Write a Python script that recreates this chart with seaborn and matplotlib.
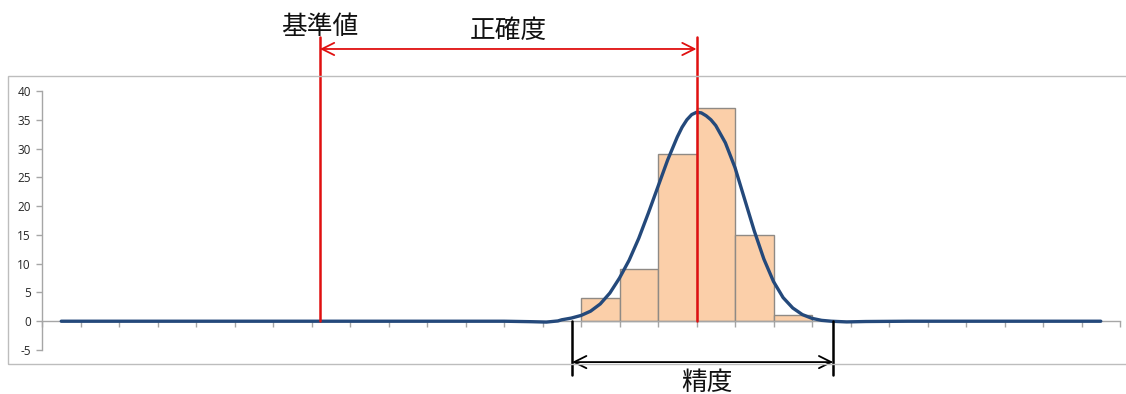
import matplotlib
matplotlib.use("Agg")
import matplotlib.pyplot as plt
import seaborn as sns
from matplotlib.patches import Rectangle

# ---- data ----
categories = [str(i) for i in range(1, 29)]
hist_categories = ["15", "16", "17", "18", "19", "20"]
hist_counts = [4, 9, 29, 37, 15, 1]

curve_x = [0, 6, 11.5, 12.2, 12.6, 12.9, 13.0, 13.25, 13.5, 13.75, 14.0, 14.25,
           14.5, 14.75, 15.0, 15.25, 15.5, 15.75, 16.0, 16.125, 16.25, 16.375,
           16.5, 16.625, 16.75, 16.875, 17.0, 17.25, 17.5, 17.75, 18.0, 18.25,
           18.5, 18.75, 19.0, 19.25, 19.5, 19.75, 20.0, 20.4, 20.9, 22.0, 27.0]
curve_y = [0, 0, 0, -0.08, -0.15, 0.05, 0.25, 0.55, 1.0, 1.75, 3.0, 4.9,
           7.5, 10.6, 14.4, 18.8, 23.4, 28.0, 32.0, 33.7, 35.0, 35.9,
           36.3, 36.2, 35.7, 35.0, 34.0, 31.0, 26.7, 21.2, 15.7, 10.8,
           6.9, 4.1, 2.3, 1.15, 0.5, 0.15, 0.0, -0.12, -0.05, 0, 0]

y_ticks = [-5, 0, 5, 10, 15, 20, 25, 30, 35, 40]

reference_value = 6.72      # 基準値 position (category axis)
mean_value = 16.5           # mean of measurements
precision_low = 13.27
precision_high = 20.05

label_reference = "基準値"
label_accuracy = "正確度"
label_precision = "精度"

# ---- style ----
sns.set_theme(style="white")
plt.rcParams["font.family"] = ["Noto Sans CJK JP", "DejaVu Sans"]

W, H = 1126, 394
fig = plt.figure(figsize=(W / 100, H / 100), dpi=100)
ax = fig.add_axes([42 / W, 1 - 350 / H, (1120 - 42) / W, (350 - 91) / H])

sns.barplot(x=hist_categories, y=hist_counts, order=categories, color="#FBCFA9",
            saturation=1, edgecolor="#8F8A85", linewidth=1.0, width=1.0, ax=ax)
sns.lineplot(x=curve_x, y=curve_y, color="#24497B", linewidth=2.4, ax=ax,
             zorder=4)

ax.set_xlim(-0.5, 27.5)
ax.set_ylim(-5, 40)
ax.set_xticks([i - 0.5 for i in range(len(categories) + 1)])
ax.set_xticklabels([])
ax.set_yticks(y_ticks)
ax.set_yticklabels([str(v) for v in y_ticks], fontfamily="Open Sans",
                   fontsize=8.5, color="#262626")
ax.set_xlabel("")
ax.set_ylabel("")

for s in ["top", "right"]:
    ax.spines[s].set_visible(False)
ax.spines["left"].set_color("#A6A6A6")
ax.spines["left"].set_linewidth(1.0)
ax.spines["bottom"].set_position(("data", 0))
ax.spines["bottom"].set_color("#A6A6A6")
ax.spines["bottom"].set_linewidth(1.0)
ax.tick_params(axis="both", direction="out", length=4, width=1.0,
               color="#A6A6A6", pad=4, bottom=True, left=True)

red = "#E01010"
# red vertical lines
for xv in [reference_value, mean_value]:
    ax.plot([xv, xv], [0, 49.3], color=red, linewidth=1.8, clip_on=False,
            zorder=5)
ax.annotate("", xy=(reference_value, 47.3), xytext=(mean_value, 47.3),
            arrowprops=dict(arrowstyle="<->", color=red, lw=1.3, shrinkA=0,
                            shrinkB=0, mutation_scale=22),
            annotation_clip=False)
ax.text(reference_value, 51.2, label_reference, ha="center", va="center",
        fontsize=18.5, color="#111111", clip_on=False)
ax.text((reference_value + mean_value) / 2, 50.5, label_accuracy,
        ha="center", va="center", fontsize=18.5, color="#111111", clip_on=False)

# black precision bracket
for xv in [precision_low, precision_high]:
    ax.plot([xv, xv], [0, -9.4], color="black", linewidth=1.8, clip_on=False,
            zorder=5)
ax.annotate("", xy=(precision_low, -7.1), xytext=(precision_high, -7.1),
            arrowprops=dict(arrowstyle="<->", color="black", lw=1.3, shrinkA=0,
                            shrinkB=0, mutation_scale=22),
            annotation_clip=False)
ax.text((precision_low + precision_high) / 2 + 0.1, -10.7, label_precision,
        ha="center", va="center", fontsize=18.5, color="#111111", clip_on=False)

# outer chart frame
fig.patches.append(Rectangle((8 / W, 1 - 364 / H), (1140 - 8) / W, (364 - 76) / H,
                             transform=fig.transFigure, fill=False,
                             edgecolor="#BDBDBD", linewidth=1.0))

fig.savefig("out.png", dpi=100)
